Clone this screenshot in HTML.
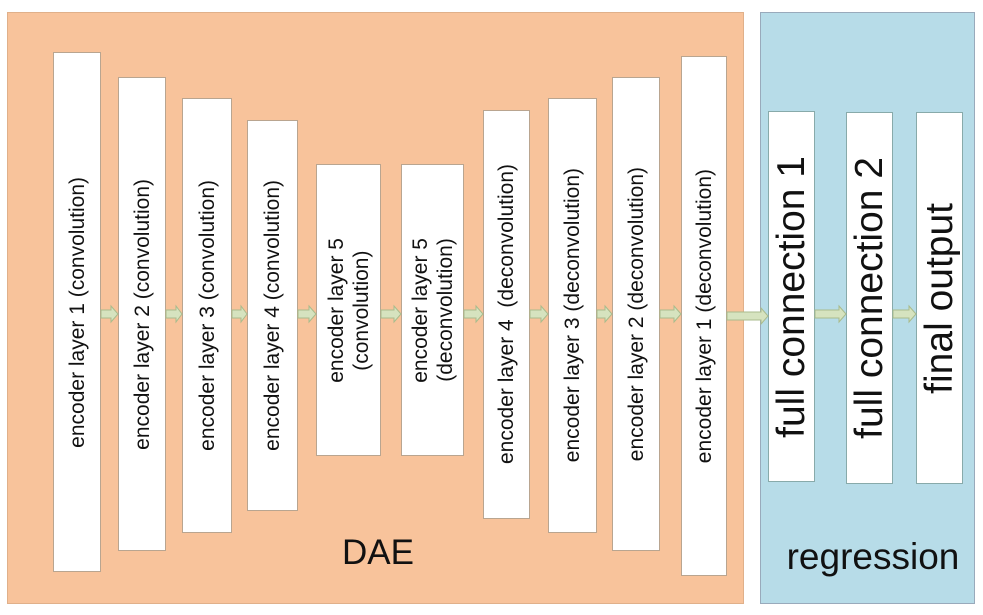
<!DOCTYPE html>
<html><head><meta charset="utf-8"><style>
body{margin:0;width:983px;height:615px;background:#fff;position:relative;overflow:hidden;font-family:"Liberation Sans",sans-serif;}
.p{position:absolute;}
.b{position:absolute;background:#fff;border:1px solid #b9a590;box-sizing:border-box;display:flex;align-items:center;justify-content:center;}
.t{writing-mode:vertical-rl;transform:rotate(180deg);font-size:21px;white-space:nowrap;text-align:center;color:#111;line-height:25px;}
.big{font-size:39px;line-height:42px;}
</style></head><body>
<div class="p" style="left:7px;top:12px;width:737px;height:592px;background:#f8c39b;border:1px solid #e0b08a;box-sizing:border-box"></div>
<div class="p" style="left:760px;top:12px;width:215px;height:592px;background:#b7dce8;border:1px solid #9ab;box-sizing:border-box"></div>

<div class="b" style="left:53px;top:52px;width:48px;height:520px"><div class="t">encoder layer 1 (convolution)</div></div>
<div class="b" style="left:118px;top:77px;width:48px;height:474px"><div class="t">encoder layer 2 (convolution)</div></div>
<div class="b" style="left:182px;top:98px;width:50px;height:435px"><div class="t">encoder layer 3 (convolution)</div></div>
<div class="b" style="left:247px;top:120px;width:51px;height:391px"><div class="t">encoder layer 4 (convolution)</div></div>
<div class="b" style="left:316px;top:164px;width:65px;height:292px"><div class="t">encoder layer 5<br>(convolution)</div></div>
<div class="b" style="left:401px;top:164px;width:63px;height:292px"><div class="t">encoder layer 5<br>(deconvolution)</div></div>
<div class="b" style="left:483px;top:110px;width:47px;height:409px"><div class="t">encoder layer 4&nbsp; (deconvolution)</div></div>
<div class="b" style="left:548px;top:98px;width:49px;height:435px"><div class="t">encoder layer 3 (deconvolution)</div></div>
<div class="b" style="left:612px;top:77px;width:48px;height:474px"><div class="t">encoder layer 2 (deconvolution)</div></div>
<div class="b" style="left:681px;top:56px;width:46px;height:520px"><div class="t">encoder layer 1 (deconvolution)</div></div>

<div class="b" style="left:768px;top:111px;width:47px;height:371px;border-color:#8aa"><div class="t big">full connection 1</div></div>
<div class="b" style="left:846px;top:112px;width:47px;height:372px;border-color:#8aa"><div class="t big">full connection 2</div></div>
<div class="b" style="left:916px;top:112px;width:47px;height:372px;border-color:#8aa"><div class="t big">final output</div></div>

<svg class="p" style="left:0;top:0" width="983" height="615">
<g fill="#d6e3bf" stroke="#a9bb8c" stroke-width="1">
<path d="M101 310h10v-4l7 8-7 8v-4h-10z"/>
<path d="M166 310h10v-4l6 8-6 8v-4h-10z"/>
<path d="M232 310h9v-4l6 8-6 8v-4h-9z"/>
<path d="M298 310h11v-4l7 8-7 8v-4h-11z"/>
<path d="M381 310h13v-4l7 8-7 8v-4h-13z"/>
<path d="M464 310h12v-4l7 8-7 8v-4h-12z"/>
<path d="M530 310h11v-4l7 8-7 8v-4h-11z"/>
<path d="M597 310h8v-4l7 8-7 8v-4h-8z"/>
<path d="M660 310h14v-4l7 8-7 8v-4h-14z"/>
<path d="M727 312h34v-4l7 8-7 8v-4h-34z"/>
<path d="M815 310h24v-4l7 8-7 8v-4h-24z"/>
<path d="M893 310h16v-4l7 8-7 8v-4h-16z"/>
</g>
<text x="378" y="564" font-size="35" text-anchor="middle" font-family="Liberation Sans" fill="#111">DAE</text>
<text x="873" y="569" font-size="37" text-anchor="middle" font-family="Liberation Sans" fill="#111">regression</text>
</svg>
</body></html>
